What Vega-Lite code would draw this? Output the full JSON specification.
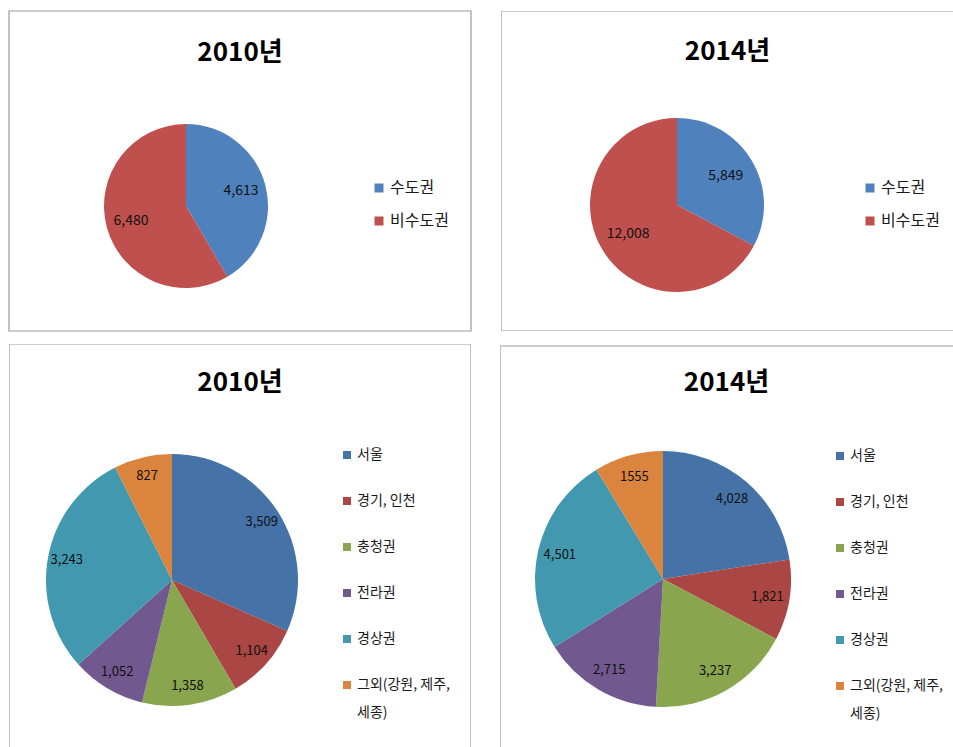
{
  "$schema": "https://vega.github.io/schema/vega-lite/v6.json",
  "background": "white",
  "padding": {"left": 8, "top": 10, "right": 0, "bottom": 0},
  "spacing": 12,
  "config": {
    "view": {"stroke": null},
    "font": "Noto Sans CJK KR",
    "title": {"fontSize": 26, "fontWeight": "bold", "font": "Noto Sans CJK KR", "color": "#000000", "anchor": "middle", "frame": "group", "baseline": "middle"},
    "legend": {"orient": "none", "title": null, "symbolType": "square", "symbolStrokeWidth": 0, "labelFont": "Noto Sans CJK KR", "labelColor": "#1a1a1a", "padding": 0, "labelOffset": 3, "labelLimit": 200},
    "style": {"guide-label": {"lineHeight": 28}}
  },
  "resolve": {"scale": {"color": "independent"}, "legend": {"color": "independent"}},
  "vconcat": [
    {
      "spacing": 29,
      "resolve": {"scale": {"color": "independent"}, "legend": {"color": "independent"}},
      "hconcat": [
        {
          "width": 462, "height": 320,
          "title": {"text": "2010년", "offset": -56},
          "data": {"values": [
            {"region": "수도권", "value": 4613, "label": "4,613", "order": 1},
            {"region": "비수도권", "value": 6480, "label": "6,480", "order": 2}
          ]},
          "layer": [
            {"data": {"values": [{"frame": 1}]},
             "mark": {"type": "rect", "fillOpacity": 0, "stroke": "#9a9a9a", "strokeWidth": 1.2},
             "encoding": {"x": {"value": 0}, "x2": {"value": "width"}, "y": {"value": 0}, "y2": {"value": "height"}}},
            {"mark": {"type": "arc", "outerRadius": 82, "x": 177, "y": 195},
             "encoding": {
               "theta": {"field": "value", "type": "quantitative", "stack": true},
               "order": {"field": "order", "type": "quantitative"},
               "color": {"field": "region", "type": "nominal",
                 "scale": {"domain": ["수도권", "비수도권"], "range": ["#4F81BD", "#C0504D"]},
                 "legend": {"legendX": 362, "legendY": 169, "labelFontSize": 16, "symbolSize": 81, "rowPadding": 17}}}},
            {"mark": {"type": "text", "radius": 57, "x": 177, "y": 195, "fontSize": 14, "color": "#111111", "font": "Noto Sans CJK KR"},
             "encoding": {
               "theta": {"field": "value", "type": "quantitative", "stack": true},
               "order": {"field": "order", "type": "quantitative"},
               "text": {"field": "label"}}}
          ]
        },
        {
          "width": 453, "height": 320,
          "title": {"text": "2014년", "offset": -54},
          "data": {"values": [
            {"region": "수도권", "value": 5849, "label": "5,849", "order": 1},
            {"region": "비수도권", "value": 12008, "label": "12,008", "order": 2}
          ]},
          "layer": [
            {"data": {"values": [{"frame": 1}]},
             "mark": {"type": "rect", "fillOpacity": 0, "stroke": "#9a9a9a", "strokeWidth": 1.2, "clip": true, "x2Offset": 6},
             "encoding": {"x": {"value": 0}, "x2": {"value": "width"}, "y": {"value": 0}, "y2": {"value": "height"}}},
            {"mark": {"type": "arc", "outerRadius": 87, "x": 176, "y": 194},
             "encoding": {
               "theta": {"field": "value", "type": "quantitative", "stack": true},
               "order": {"field": "order", "type": "quantitative"},
               "color": {"field": "region", "type": "nominal",
                 "scale": {"domain": ["수도권", "비수도권"], "range": ["#4F81BD", "#C0504D"]},
                 "legend": {"legendX": 361, "legendY": 169, "labelFontSize": 16, "symbolSize": 81, "rowPadding": 17}}}},
            {"mark": {"type": "text", "radius": 57, "x": 176, "y": 194, "fontSize": 14, "color": "#111111", "font": "Noto Sans CJK KR"},
             "encoding": {
               "theta": {"field": "value", "type": "quantitative", "stack": true},
               "order": {"field": "order", "type": "quantitative"},
               "text": {"field": "label"}}}
          ]
        }
      ]
    },
    {
      "spacing": 29,
      "resolve": {"scale": {"color": "independent"}, "legend": {"color": "independent"}},
      "hconcat": [
        {
          "width": 462, "height": 405,
          "title": {"text": "2010년", "offset": -52},
          "data": {"values": [
            {"region": "서울", "value": 3509, "label": "3,509", "order": 1},
            {"region": "경기, 인천", "value": 1104, "label": "1,104", "order": 2},
            {"region": "충청권", "value": 1358, "label": "1,358", "order": 3},
            {"region": "전라권", "value": 1052, "label": "1,052", "order": 4},
            {"region": "경상권", "value": 3243, "label": "3,243", "order": 5},
            {"region": "그외(강원, 제주, 세종)", "value": 827, "label": "827", "order": 6}
          ]},
          "layer": [
            {"data": {"values": [{"frame": 1}]},
             "mark": {"type": "rect", "fillOpacity": 0, "stroke": "#9a9a9a", "strokeWidth": 1.2, "clip": true, "y2Offset": 6},
             "encoding": {"x": {"value": 0}, "x2": {"value": "width"}, "y": {"value": 0}, "y2": {"value": "height"}}},
            {"mark": {"type": "arc", "outerRadius": 126, "x": 163, "y": 236},
             "encoding": {
               "theta": {"field": "value", "type": "quantitative", "stack": true},
               "order": {"field": "order", "type": "quantitative"},
               "color": {"field": "region", "type": "nominal",
                 "scale": {"domain": ["서울", "경기, 인천", "충청권", "전라권", "경상권", "그외(강원, 제주, 세종)"],
                           "range": ["#4572A7", "#AA4643", "#89A54E", "#71588F", "#4198AF", "#DB843D"]},
                 "legend": {"legendX": 331, "legendY": 104, "labelFontSize": 14, "symbolSize": 64, "rowPadding": 32,
                            "labelExpr": "datum.label == '그외(강원, 제주, 세종)' ? ['그외(강원, 제주,', '세종)'] : datum.label"}}}},
            {"mark": {"type": "text", "radius": 107, "x": 163, "y": 236, "fontSize": 13, "color": "#111111", "font": "Noto Sans CJK KR"},
             "encoding": {
               "theta": {"field": "value", "type": "quantitative", "stack": true},
               "order": {"field": "order", "type": "quantitative"},
               "text": {"field": "label"}}}
          ]
        },
        {
          "width": 453, "height": 405,
          "title": {"text": "2014년", "offset": -52},
          "data": {"values": [
            {"region": "서울", "value": 4028, "label": "4,028", "order": 1},
            {"region": "경기, 인천", "value": 1821, "label": "1,821", "order": 2},
            {"region": "충청권", "value": 3237, "label": "3,237", "order": 3},
            {"region": "전라권", "value": 2715, "label": "2,715", "order": 4},
            {"region": "경상권", "value": 4501, "label": "4,501", "order": 5},
            {"region": "그외(강원, 제주, 세종)", "value": 1555, "label": "1555", "order": 6}
          ]},
          "layer": [
            {"data": {"values": [{"frame": 1}]},
             "mark": {"type": "rect", "fillOpacity": 0, "stroke": "#9a9a9a", "strokeWidth": 1.2, "clip": true, "x2Offset": 6, "y2Offset": 6, "yOffset": 2},
             "encoding": {"x": {"value": 0}, "x2": {"value": "width"}, "y": {"value": 0}, "y2": {"value": "height"}}},
            {"mark": {"type": "arc", "outerRadius": 128, "x": 163, "y": 235},
             "encoding": {
               "theta": {"field": "value", "type": "quantitative", "stack": true},
               "order": {"field": "order", "type": "quantitative"},
               "color": {"field": "region", "type": "nominal",
                 "scale": {"domain": ["서울", "경기, 인천", "충청권", "전라권", "경상권", "그외(강원, 제주, 세종)"],
                           "range": ["#4572A7", "#AA4643", "#89A54E", "#71588F", "#4198AF", "#DB843D"]},
                 "legend": {"legendX": 333, "legendY": 105, "labelFontSize": 14, "symbolSize": 64, "rowPadding": 32,
                            "labelExpr": "datum.label == '그외(강원, 제주, 세종)' ? ['그외(강원, 제주,', '세종)'] : datum.label"}}}},
            {"mark": {"type": "text", "radius": 106, "x": 163, "y": 235, "fontSize": 13, "color": "#111111", "font": "Noto Sans CJK KR"},
             "encoding": {
               "theta": {"field": "value", "type": "quantitative", "stack": true},
               "order": {"field": "order", "type": "quantitative"},
               "text": {"field": "label"}}}
          ]
        }
      ]
    }
  ]
}
